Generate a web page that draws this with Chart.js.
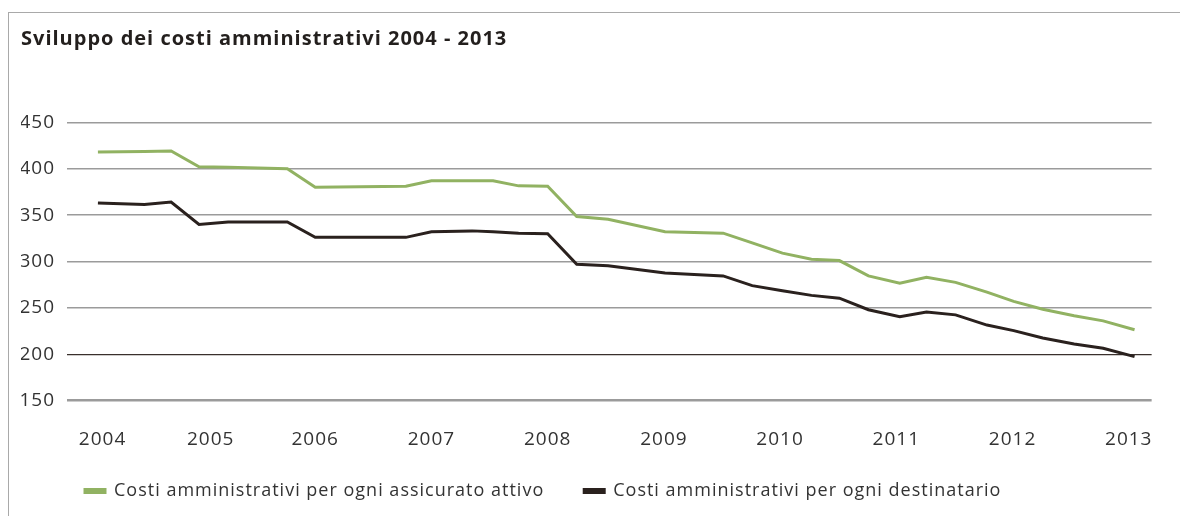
<!DOCTYPE html>
<html>
<head>
<meta charset="utf-8">
<script src="https://cdn.jsdelivr.net/npm/chart.js@4.4.1/dist/chart.umd.min.js"></script>
<style>
    html, body { margin: 0; padding: 0; background: #fff; }
    .wrap { position: relative; width: 1180px; height: 516px; }
    .frame {
        position: absolute; left: 8px; top: 12px; right: 0; bottom: 0;
        border-top: 1px solid #a9a9a9; border-left: 1px solid #a9a9a9;
        pointer-events: none;
    }
</style>
</head>
<body>
<div class="wrap">
    <canvas id="chart" width="1180" height="516"></canvas>
    <div class="frame"></div>
</div>
<script>
// dati (anni in forma decimale)
const periods = [2004.13, 2004.53, 2004.76, 2005.0, 2005.25, 2005.76, 2006.0, 2006.78, 2007.0, 2007.35, 2007.53,
    2007.75, 2008.0, 2008.25, 2008.52, 2009.01, 2009.51, 2009.76, 2010.02, 2010.27, 2010.51, 2010.76,
    2011.03, 2011.26, 2011.51, 2011.78, 2012.01, 2012.26, 2012.53, 2012.78, 2013.05];
const perInsured = [418, 418.5, 419, 402, 401.5, 400, 380, 381, 387, 387, 387, 381.5, 381, 348.5, 345.5,
    332, 330.5, 320, 309, 302.5, 301, 284.5, 276.5, 283, 277.5, 267, 257, 248.5, 241.5, 236, 226.5];
const perRecipient = [363, 361.5, 364, 340, 342.5, 342.5, 326, 326, 332, 333, 332, 330.5, 330, 297, 295.5,
    287.5, 284.5, 274, 268.5, 263.5, 260.5, 248, 240.5, 245.5, 242.5, 231.5, 225.5, 217.5, 211, 206.5, 197.5];
const yearLabels = ['2004', '2005', '2006', '2007', '2008', '2009', '2010', '2011', '2012', '2013'];
const yearTickPos = [2004.17, 2005.1, 2006, 2007, 2008, 2009, 2010, 2011, 2012, 2013];
const seriesNames = ['Costi amministrativi per ogni assicurato attivo', 'Costi amministrativi per ogni destinatario'];

const green = '#91b262';
const dark = '#2a211e';

// testo un po' più largo, come nel font originale
const wideText = {
    id: 'wideText',
    beforeUpdate(chart) { chart.ctx.letterSpacing = '1px'; },
    beforeDraw(chart) { chart.ctx.letterSpacing = '1px'; }
};

// sposta la legenda come nell'originale
const legendShift = {
    id: 'legendShift',
    afterLayout(chart) {
        chart.legend.left += 24;
        chart.legend.right += 24;
        chart.legend.top -= 6;
        chart.legend.bottom -= 6;
    }
};

new Chart(document.getElementById('chart'), {
    type: 'line',
    data: {
        datasets: [
            {
                label: seriesNames[0],
                data: periods.map((p, i) => ({x: p, y: perInsured[i]})),
                borderColor: green,
                backgroundColor: green,
                borderWidth: 3,
                pointRadius: 0,
                tension: 0
            },
            {
                label: seriesNames[1],
                data: periods.map((p, i) => ({x: p, y: perRecipient[i]})),
                borderColor: dark,
                backgroundColor: dark,
                borderWidth: 3,
                pointRadius: 0,
                tension: 0
            }
        ]
    },
    options: {
        responsive: false,
        animation: false,
        layout: { padding: { left: 21, right: 25, top: 0, bottom: 0 } },
        scales: {
            x: {
                type: 'linear',
                min: 2003.864,
                max: 2013.197,
                grid: { display: false, drawTicks: false },
                border: { display: false },
                afterBuildTicks: s => { s.ticks = yearTickPos.map(v => ({value: v})); },
                afterFit: s => { s.height = 47.3; },
                ticks: {
                    autoSkip: false,
                    maxRotation: 0,
                    padding: 27,
                    color: '#333',
                    font: { family: 'Open Sans', size: 19 },
                    callback: (v, i) => yearLabels[i]
                }
            },
            y: {
                min: 150,
                max: 450,
                afterFit: s => { s.width = 46; },
                border: { display: false },
                grid: {
                    drawTicks: false,
                    color: c => c.tick && c.tick.value === 200 ? '#3a302c' : '#9b9b9b',
                    lineWidth: c => !c.tick ? 1 : (c.tick.value === 150 ? 2.5 : (c.tick.value === 200 ? 1.2 : 1.6))
                },
                ticks: {
                    stepSize: 50,
                    padding: 12,
                    color: '#333',
                    font: { family: 'Open Sans', size: 19 }
                }
            }
        },
        plugins: {
            title: {
                display: true,
                text: 'Sviluppo dei costi amministrativi 2004 - 2013',
                align: 'start',
                color: '#231f1d',
                font: { family: 'Open Sans', size: 20, weight: 'bold' },
                padding: { top: 27, bottom: 71.3 }
            },
            legend: {
                position: 'bottom',
                align: 'start',
                labels: {
                    boxWidth: 20,
                    boxHeight: 3,
                    padding: 40,
                    color: '#333',
                    font: { family: 'Open Sans', size: 18 }
                }
            },
            tooltip: { enabled: false }
        }
    },
    plugins: [wideText, legendShift]
});
</script>
</body>
</html>
